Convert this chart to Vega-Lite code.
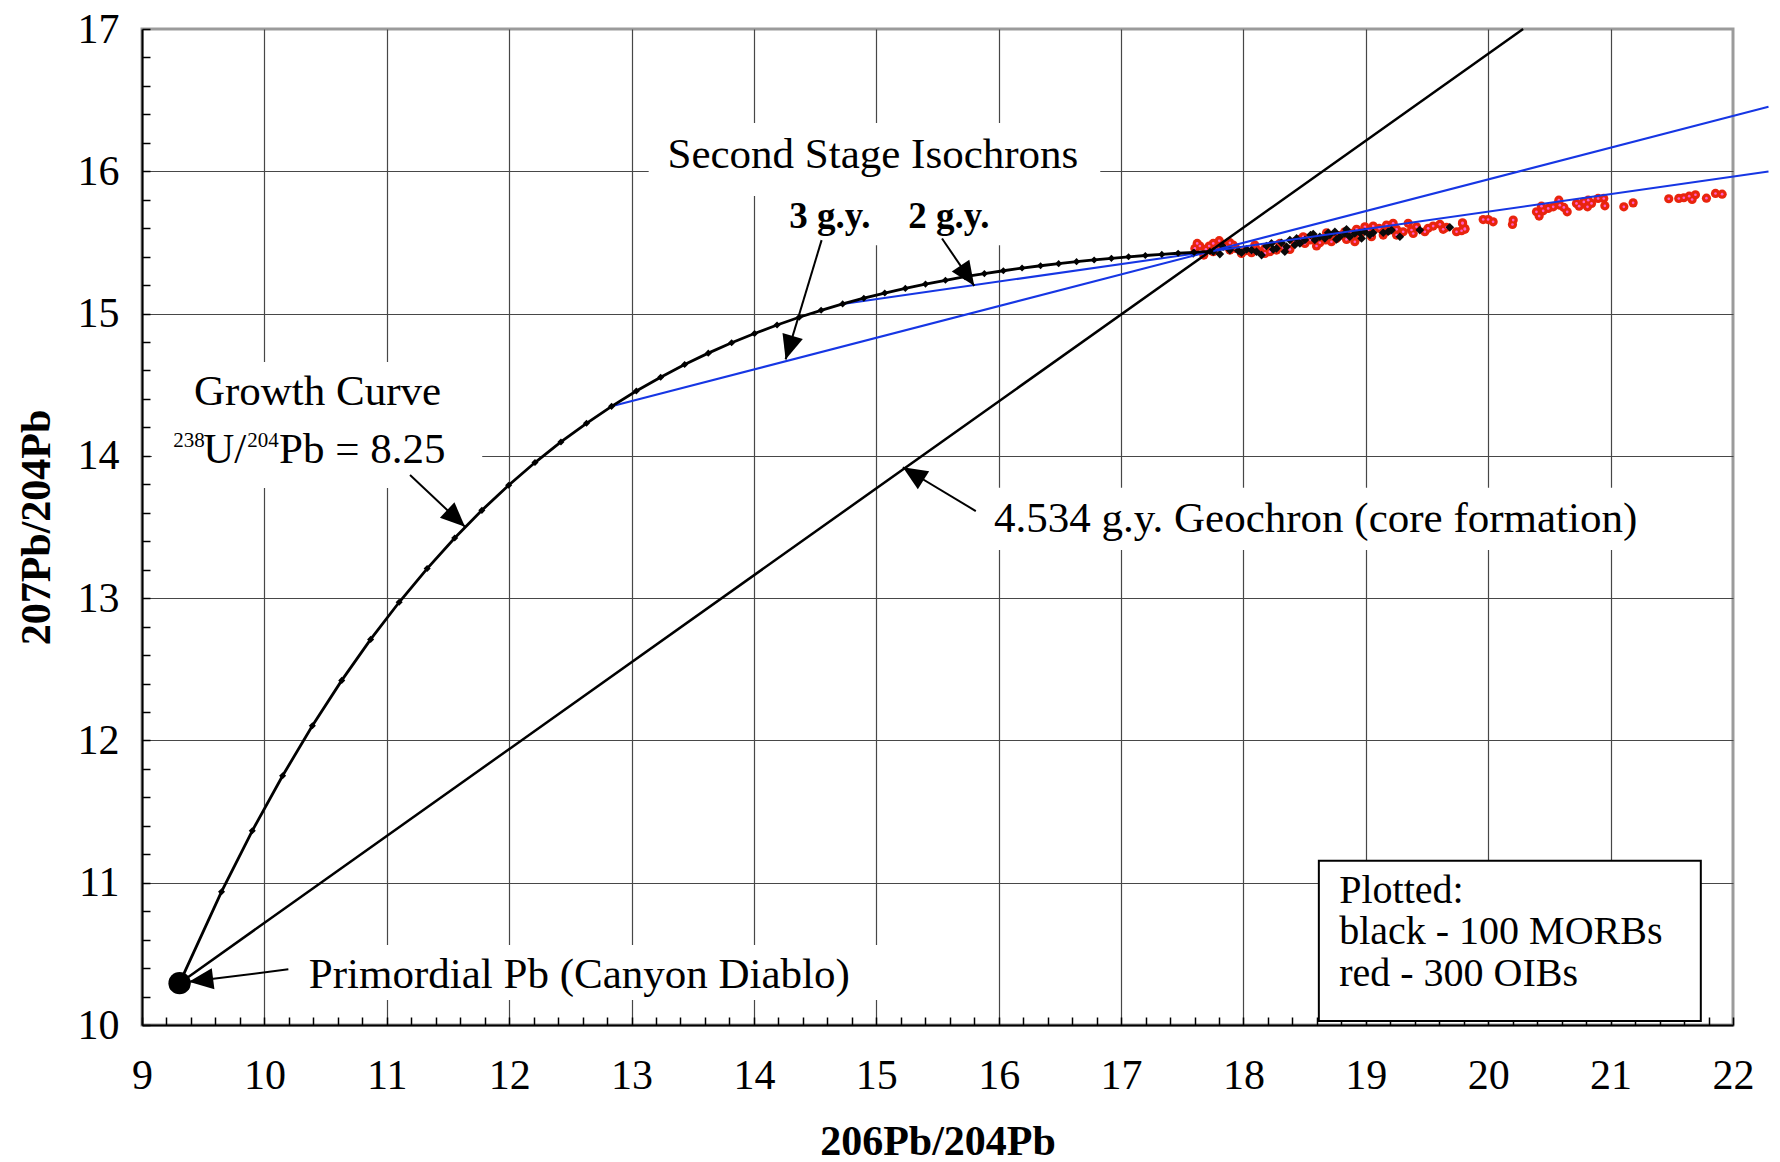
{
  "$schema": "https://vega.github.io/schema/vega-lite/v6.json",
  "width": 1591,
  "height": 996,
  "autosize": {"type": "none"},
  "padding": {"left": 142, "top": 29, "right": 47, "bottom": 137},
  "background": "white",
  "config": {
    "view": {"stroke": "#9b9b9b", "strokeWidth": 3},
    "font": "Liberation Serif",
    "axis": {
      "labelFont": "Liberation Serif",
      "labelFontSize": 42,
      "labelColor": "black",
      "titleFont": "Liberation Serif",
      "titleFontSize": 42,
      "titleFontWeight": "bold",
      "titleColor": "black",
      "domainColor": "black",
      "domainWidth": 2,
      "tickColor": "black",
      "tickWidth": 1.5,
      "tickSize": -8,
      "gridColor": "#474747",
      "gridWidth": 1.2,
      "labelOverlap": false,
      "labelFlush": false
    }
  },
  "datasets": {
    "curve": [
      {"x": 9.307, "y": 10.294}, {"x": 9.650, "y": 10.937}, {"x": 9.901, "y": 11.365}, {"x": 10.149, "y": 11.752},
      {"x": 10.392, "y": 12.103}, {"x": 10.632, "y": 12.422}, {"x": 10.868, "y": 12.710}, {"x": 11.101, "y": 12.971},
      {"x": 11.330, "y": 13.208}, {"x": 11.555, "y": 13.423}, {"x": 11.777, "y": 13.617}, {"x": 11.996, "y": 13.794},
      {"x": 12.211, "y": 13.953}, {"x": 12.423, "y": 14.098}, {"x": 12.632, "y": 14.229}, {"x": 12.837, "y": 14.348},
      {"x": 13.039, "y": 14.456}, {"x": 13.238, "y": 14.553}, {"x": 13.434, "y": 14.642}, {"x": 13.627, "y": 14.722},
      {"x": 13.818, "y": 14.795}, {"x": 14.005, "y": 14.860}, {"x": 14.189, "y": 14.920}, {"x": 14.370, "y": 14.974},
      {"x": 14.549, "y": 15.023}, {"x": 14.725, "y": 15.068}, {"x": 14.898, "y": 15.108}, {"x": 15.069, "y": 15.144},
      {"x": 15.237, "y": 15.177}, {"x": 15.402, "y": 15.207}, {"x": 15.565, "y": 15.234}, {"x": 15.725, "y": 15.259},
      {"x": 15.883, "y": 15.281}, {"x": 16.038, "y": 15.301}, {"x": 16.191, "y": 15.320}, {"x": 16.342, "y": 15.336},
      {"x": 16.490, "y": 15.351}, {"x": 16.636, "y": 15.365}, {"x": 16.780, "y": 15.377}, {"x": 16.921, "y": 15.388},
      {"x": 17.061, "y": 15.399}, {"x": 17.198, "y": 15.408}, {"x": 17.333, "y": 15.416}, {"x": 17.466, "y": 15.424},
      {"x": 17.597, "y": 15.430}, {"x": 17.726, "y": 15.437}
    ],
    "isochrons": [
      {"id": "3 g.y.", "x": 12.837, "y": 14.348}, {"id": "3 g.y.", "x": 22.29, "y": 16.453},
      {"id": "2 g.y.", "x": 14.725, "y": 15.068}, {"id": "2 g.y.", "x": 22.29, "y": 15.998}
    ],
    "geochron": [
      {"x": 9.307, "y": 10.294}, {"x": 20.285, "y": 17.0}
    ],
    "primordial": [{"x": 9.307, "y": 10.294}],
    "oib": [
      {"x": 17.603, "y": 15.458}, {"x": 17.622, "y": 15.493}, {"x": 17.644, "y": 15.475}, {"x": 17.676, "y": 15.411},
      {"x": 17.693, "y": 15.451}, {"x": 17.720, "y": 15.475}, {"x": 17.753, "y": 15.493}, {"x": 17.775, "y": 15.465},
      {"x": 17.802, "y": 15.512}, {"x": 17.821, "y": 15.489}, {"x": 17.856, "y": 15.475}, {"x": 17.889, "y": 15.498},
      {"x": 17.916, "y": 15.482}, {"x": 17.938, "y": 15.458}, {"x": 17.984, "y": 15.423}, {"x": 18.020, "y": 15.442},
      {"x": 18.066, "y": 15.428}, {"x": 18.112, "y": 15.446}, {"x": 18.175, "y": 15.458}, {"x": 18.216, "y": 15.435},
      {"x": 18.270, "y": 15.446}, {"x": 18.325, "y": 15.465}, {"x": 18.379, "y": 15.451}, {"x": 18.420, "y": 15.505},
      {"x": 18.461, "y": 15.521}, {"x": 18.502, "y": 15.493}, {"x": 18.548, "y": 15.517}, {"x": 18.583, "y": 15.528},
      {"x": 18.624, "y": 15.498}, {"x": 18.673, "y": 15.517}, {"x": 18.719, "y": 15.505}, {"x": 18.760, "y": 15.528},
      {"x": 18.801, "y": 15.552}, {"x": 18.842, "y": 15.521}, {"x": 18.883, "y": 15.563}, {"x": 18.910, "y": 15.505},
      {"x": 18.951, "y": 15.540}, {"x": 18.992, "y": 15.610}, {"x": 19.019, "y": 15.587}, {"x": 19.060, "y": 15.615},
      {"x": 19.109, "y": 15.599}, {"x": 19.142, "y": 15.552}, {"x": 19.182, "y": 15.582}, {"x": 19.223, "y": 15.634},
      {"x": 19.251, "y": 15.592}, {"x": 19.305, "y": 15.575}, {"x": 19.346, "y": 15.634}, {"x": 19.373, "y": 15.587},
      {"x": 19.414, "y": 15.610}, {"x": 19.482, "y": 15.575}, {"x": 19.509, "y": 15.599}, {"x": 19.550, "y": 15.615},
      {"x": 19.605, "y": 15.627}, {"x": 19.632, "y": 15.592}, {"x": 19.659, "y": 15.606}, {"x": 19.741, "y": 15.575},
      {"x": 19.790, "y": 15.638}, {"x": 19.809, "y": 15.592}, {"x": 18.488, "y": 15.540}, {"x": 18.597, "y": 15.475},
      {"x": 18.679, "y": 15.568}, {"x": 18.828, "y": 15.575}, {"x": 18.924, "y": 15.592}, {"x": 19.046, "y": 15.540},
      {"x": 19.169, "y": 15.622}, {"x": 19.387, "y": 15.563}, {"x": 19.251, "y": 15.552}, {"x": 18.093, "y": 15.482},
      {"x": 18.297, "y": 15.493}, {"x": 18.175, "y": 15.423}, {"x": 17.889, "y": 15.446}, {"x": 17.753, "y": 15.435},
      {"x": 19.790, "y": 15.633}, {"x": 19.809, "y": 15.598}, {"x": 19.782, "y": 15.582}, {"x": 19.959, "y": 15.661},
      {"x": 19.999, "y": 15.661}, {"x": 20.040, "y": 15.645}, {"x": 20.204, "y": 15.657}, {"x": 20.198, "y": 15.626},
      {"x": 20.394, "y": 15.715}, {"x": 20.416, "y": 15.685}, {"x": 20.435, "y": 15.755}, {"x": 20.449, "y": 15.722},
      {"x": 20.490, "y": 15.739}, {"x": 20.531, "y": 15.750}, {"x": 20.577, "y": 15.797}, {"x": 20.585, "y": 15.762},
      {"x": 20.618, "y": 15.746}, {"x": 20.645, "y": 15.715}, {"x": 20.721, "y": 15.774}, {"x": 20.743, "y": 15.755},
      {"x": 20.781, "y": 15.785}, {"x": 20.817, "y": 15.797}, {"x": 20.811, "y": 15.750}, {"x": 20.844, "y": 15.774},
      {"x": 20.898, "y": 15.809}, {"x": 20.944, "y": 15.809}, {"x": 20.953, "y": 15.757}, {"x": 21.108, "y": 15.750},
      {"x": 21.184, "y": 15.778}, {"x": 21.475, "y": 15.807}, {"x": 21.557, "y": 15.809}, {"x": 21.598, "y": 15.814},
      {"x": 21.642, "y": 15.825}, {"x": 21.666, "y": 15.802}, {"x": 21.693, "y": 15.835}, {"x": 21.783, "y": 15.811},
      {"x": 21.857, "y": 15.844}, {"x": 21.911, "y": 15.839}
    ],
    "morb": [
      {"x": 17.589, "y": 15.423}, {"x": 17.753, "y": 15.435}, {"x": 17.807, "y": 15.418}, {"x": 17.834, "y": 15.470},
      {"x": 17.889, "y": 15.446}, {"x": 17.957, "y": 15.442}, {"x": 17.984, "y": 15.428}, {"x": 18.025, "y": 15.451},
      {"x": 18.066, "y": 15.446}, {"x": 18.107, "y": 15.435}, {"x": 18.148, "y": 15.411}, {"x": 18.188, "y": 15.475},
      {"x": 18.229, "y": 15.493}, {"x": 18.270, "y": 15.458}, {"x": 18.311, "y": 15.498}, {"x": 18.352, "y": 15.470},
      {"x": 18.379, "y": 15.517}, {"x": 18.420, "y": 15.482}, {"x": 18.461, "y": 15.493}, {"x": 18.502, "y": 15.517},
      {"x": 18.548, "y": 15.552}, {"x": 18.583, "y": 15.517}, {"x": 18.624, "y": 15.540}, {"x": 18.665, "y": 15.528},
      {"x": 18.706, "y": 15.552}, {"x": 18.747, "y": 15.575}, {"x": 18.788, "y": 15.540}, {"x": 18.828, "y": 15.563},
      {"x": 18.869, "y": 15.540}, {"x": 18.910, "y": 15.563}, {"x": 18.951, "y": 15.568}, {"x": 18.992, "y": 15.575},
      {"x": 19.033, "y": 15.552}, {"x": 19.060, "y": 15.568}, {"x": 19.142, "y": 15.568}, {"x": 19.182, "y": 15.575},
      {"x": 19.210, "y": 15.587}, {"x": 19.278, "y": 15.540}, {"x": 19.441, "y": 15.587}, {"x": 19.686, "y": 15.606},
      {"x": 18.243, "y": 15.451}, {"x": 18.338, "y": 15.435}, {"x": 18.434, "y": 15.528}, {"x": 18.570, "y": 15.559},
      {"x": 18.692, "y": 15.568}, {"x": 18.760, "y": 15.521}, {"x": 18.842, "y": 15.592}, {"x": 18.965, "y": 15.528}
    ],
    "arrows": [
      {"x": 11.639, "y": 13.502, "xs": 11.190, "ys": 13.865, "heading": 133.2},
      {"x": 14.259, "y": 14.678, "xs": 14.553, "ys": 15.516, "heading": 196.8},
      {"x": 15.800, "y": 15.195, "xs": 15.537, "ys": 15.528, "heading": 145.9},
      {"x": 15.217, "y": 13.920, "xs": 15.813, "ys": 13.612, "heading": 302.3},
      {"x": 9.383, "y": 10.304, "xs": 10.196, "ys": 10.391, "heading": 262.9}
    ],
    "masks": [
      {"x": 13.14, "y": 16.339, "x2": 16.83, "y2": 15.826},
      {"x": 14.22, "y": 15.826, "x2": 16.2, "y2": 15.48},
      {"x": 9.08, "y": 14.659, "x2": 11.78, "y2": 13.774},
      {"x": 15.89, "y": 13.776, "x2": 21.21, "y2": 13.338},
      {"x": 10.3, "y": 10.562, "x2": 15.1, "y2": 10.176}
    ],
    "legendbox": [{"x": 18.616, "y": 11.155, "x2": 21.737, "y2": 10.028}],
    "textCenter": [
      {"x": 14.972, "y": 16.022, "label": "Second Stage Isochrons"},
      {"x": 10.434, "y": 14.357, "label": "Growth Curve"},
      {"x": 18.59, "y": 13.467, "label": "4.534 g.y. Geochron (core formation)"}
    ],
    "textLeft": [
      {"x": 10.363, "y": 10.258, "label": "Primordial Pb (Canyon Diablo)"},
      {"x": 9.501, "y": 13.947, "label": "U/"},
      {"x": 10.12, "y": 13.947, "label": "Pb = 8.25"}
    ],
    "textLegend": [
      {"x": 18.782, "y": 10.855, "label": "Plotted:"},
      {"x": 18.782, "y": 10.567, "label": "black - 100 MORBs"},
      {"x": 18.782, "y": 10.274, "label": "red - 300 OIBs"}
    ],
    "textSup": [
      {"x": 9.256, "y": 14.064, "label": "238"},
      {"x": 9.86, "y": 14.064, "label": "204"}
    ],
    "textBold": [
      {"x": 14.62, "y": 15.599, "label": "3 g.y."},
      {"x": 15.593, "y": 15.599, "label": "2 g.y."}
    ]
  },
  "encoding": {
    "x": {
      "field": "x",
      "type": "quantitative",
      "scale": {"domain": [9, 22], "nice": false, "zero": false},
      "axis": {
        "orient": "bottom",
        "title": "206Pb/204Pb",
        "titleY": 129,
        "titleBaseline": "alphabetic",
        "values": [9,9.2,9.4,9.6,9.8,10,10.2,10.4,10.6,10.8,11,11.2,11.4,11.6,11.8,12,12.2,12.4,12.6,12.8,13,13.2,13.4,13.6,13.8,14,14.2,14.4,14.6,14.8,15,15.2,15.4,15.6,15.8,16,16.2,16.4,16.6,16.8,17,17.2,17.4,17.6,17.8,18,18.2,18.4,18.6,18.8,19,19.2,19.4,19.6,19.8,20,20.2,20.4,20.6,20.8,21,21.2,21.4,21.6,21.8,22],
        "labelExpr": "datum.value % 1 === 0 ? format(datum.value, 'd') : ''",
        "labelPadding": 38,
        "grid": true,
        "gridOpacity": {"condition": {"test": "datum.value % 1 === 0 && datum.value > 9 && datum.value < 22", "value": 1}, "value": 0}
      }
    },
    "y": {
      "field": "y",
      "type": "quantitative",
      "scale": {"domain": [10, 17], "nice": false, "zero": false},
      "axis": {
        "orient": "left",
        "title": "207Pb/204Pb",
        "titleX": -93,
        "titleBaseline": "alphabetic",
        "values": [10,10.2,10.4,10.6,10.8,11,11.2,11.4,11.6,11.8,12,12.2,12.4,12.6,12.8,13,13.2,13.4,13.6,13.8,14,14.2,14.4,14.6,14.8,15,15.2,15.4,15.6,15.8,16,16.2,16.4,16.6,16.8,17],
        "labelExpr": "datum.value % 1 === 0 ? format(datum.value, 'd') : ''",
        "labelPadding": 31,
        "grid": true,
        "gridOpacity": {"condition": {"test": "datum.value % 1 === 0 && datum.value > 10 && datum.value < 17", "value": 1}, "value": 0}
      }
    }
  },
  "layer": [
    {
      "data": {"name": "masks"},
      "mark": {"type": "rect", "fill": "white", "strokeWidth": 0},
      "encoding": {"x2": {"field": "x2"}, "y2": {"field": "y2"}}
    },
    {
      "data": {"name": "oib"},
      "mark": {"type": "point", "shape": "circle", "filled": true, "color": "#e9240d", "opacity": 1, "size": 85}
    },
    {
      "data": {"name": "oib"},
      "mark": {"type": "point", "shape": "circle", "filled": true, "color": "#ff5fc8", "opacity": 1, "size": 7}
    },
    {
      "data": {"name": "morb"},
      "mark": {"type": "point", "shape": "diamond", "filled": true, "color": "#0a0a0a", "opacity": 1, "size": 75}
    },
    {
      "data": {"name": "isochrons"},
      "mark": {"type": "line", "color": "#1636e4", "strokeWidth": 2},
      "encoding": {"detail": {"field": "id", "type": "nominal"}}
    },
    {
      "data": {"name": "geochron"},
      "mark": {"type": "line", "color": "black", "strokeWidth": 2.5}
    },
    {
      "data": {"name": "curve"},
      "mark": {"type": "line", "color": "black", "strokeWidth": 2.8, "point": {"shape": "diamond", "filled": true, "color": "black", "size": 50, "opacity": 1}}
    },
    {
      "data": {"name": "arrows"},
      "mark": {"type": "rule", "color": "black", "strokeWidth": 2},
      "encoding": {"x2": {"field": "xs"}, "y2": {"field": "ys"}}
    },
    {
      "data": {"name": "arrows"},
      "mark": {"type": "point", "shape": "M0,0L-0.5,1.15L0.5,1.15Z", "filled": true, "color": "black", "opacity": 1, "size": 1800},
      "encoding": {"angle": {"field": "heading", "type": "quantitative", "scale": null}}
    },
    {
      "data": {"name": "primordial"},
      "mark": {"type": "point", "shape": "circle", "filled": true, "color": "black", "opacity": 1, "size": 500}
    },
    {
      "data": {"name": "legendbox"},
      "mark": {"type": "rect", "fill": "white", "stroke": "black", "strokeWidth": 2},
      "encoding": {"x2": {"field": "x2"}, "y2": {"field": "y2"}}
    },
    {
      "data": {"name": "textCenter"},
      "mark": {"type": "text", "align": "center", "baseline": "alphabetic", "font": "Liberation Serif", "fontSize": 43, "color": "black"},
      "encoding": {"text": {"field": "label"}}
    },
    {
      "data": {"name": "textLeft"},
      "mark": {"type": "text", "align": "left", "baseline": "alphabetic", "font": "Liberation Serif", "fontSize": 43, "color": "black"},
      "encoding": {"text": {"field": "label"}}
    },
    {
      "data": {"name": "textLegend"},
      "mark": {"type": "text", "align": "left", "baseline": "alphabetic", "font": "Liberation Serif", "fontSize": 40, "color": "black"},
      "encoding": {"text": {"field": "label"}}
    },
    {
      "data": {"name": "textSup"},
      "mark": {"type": "text", "align": "left", "baseline": "alphabetic", "font": "Liberation Serif", "fontSize": 21, "color": "black"},
      "encoding": {"text": {"field": "label"}}
    },
    {
      "data": {"name": "textBold"},
      "mark": {"type": "text", "align": "center", "baseline": "alphabetic", "font": "Liberation Serif", "fontSize": 37, "fontWeight": "bold", "color": "black"},
      "encoding": {"text": {"field": "label"}}
    }
  ]
}
